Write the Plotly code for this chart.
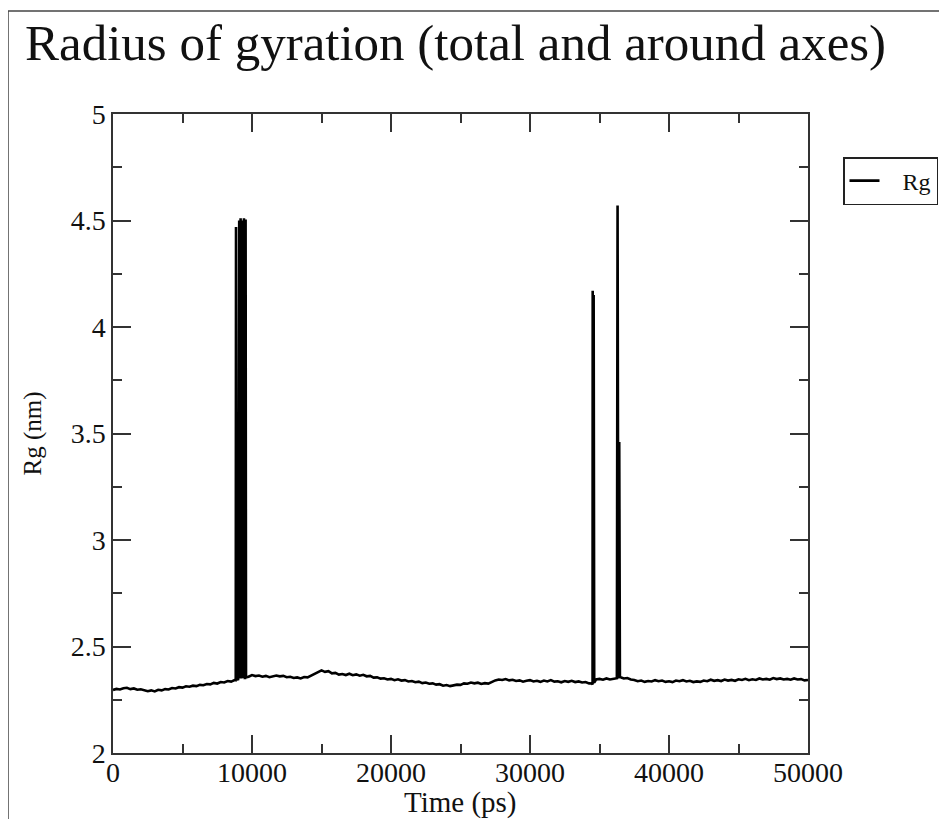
import plotly.graph_objects as go

base_time_ps = list(range(0, 50001, 250))
base_rg_nm = [
    2.296, 2.301, 2.298, 2.304, 2.306, 2.300, 2.303, 2.297, 2.299, 2.293,
    2.290, 2.294, 2.289, 2.297, 2.294, 2.300, 2.298, 2.305, 2.303, 2.309,
    2.307, 2.313, 2.311, 2.316, 2.314, 2.320, 2.318, 2.324, 2.322, 2.329,
    2.326, 2.333, 2.331, 2.338, 2.335, 2.342, 2.346, 2.350, 2.352, 2.358,
    2.366, 2.361, 2.364, 2.358, 2.362, 2.356, 2.359, 2.364, 2.360, 2.362,
    2.356, 2.358, 2.352, 2.355, 2.350, 2.357, 2.355, 2.364, 2.370, 2.378,
    2.388, 2.381, 2.384, 2.374, 2.376, 2.368, 2.371, 2.366, 2.372, 2.365,
    2.369, 2.363, 2.367, 2.360, 2.362, 2.354, 2.355, 2.349, 2.351, 2.345,
    2.348, 2.342, 2.346, 2.340, 2.342, 2.336, 2.338, 2.332, 2.335, 2.328,
    2.331, 2.325, 2.327, 2.321, 2.323, 2.316, 2.319, 2.314, 2.317, 2.321,
    2.320, 2.327, 2.325, 2.331, 2.327, 2.330, 2.324, 2.328, 2.326, 2.335,
    2.341, 2.345, 2.343, 2.347, 2.341, 2.344, 2.338, 2.341, 2.335, 2.339,
    2.342, 2.336, 2.339, 2.334, 2.340, 2.336, 2.342, 2.335, 2.337, 2.332,
    2.338, 2.334, 2.339, 2.333, 2.336, 2.331, 2.333, 2.327, 2.322, 2.345,
    2.348, 2.344, 2.350, 2.345, 2.347, 2.351, 2.356, 2.350, 2.352, 2.345,
    2.343, 2.337, 2.340, 2.334, 2.338, 2.336, 2.342, 2.337, 2.340, 2.334,
    2.337, 2.333, 2.340, 2.337, 2.342, 2.336, 2.339, 2.333, 2.336, 2.334,
    2.340, 2.337, 2.344, 2.339, 2.342, 2.338, 2.345, 2.340, 2.343, 2.339,
    2.346, 2.343, 2.348, 2.342, 2.346, 2.343, 2.350, 2.345, 2.348, 2.344,
    2.352, 2.347, 2.350, 2.345, 2.348, 2.344, 2.350, 2.345, 2.347, 2.341,
    2.343,
]

# Spike events (time in ps, Rg in nm)
spike_time_ps = [
    8830, 8850, 8870,
    9080, 9130, 9180, 9240, 9300, 9360, 9420, 9480, 9540, 9570,
    34460, 34510, 34540, 34580, 34620,
    36240, 36300, 36360, 36420, 36470,
]
spike_rg_nm = [
    2.342, 4.47, 2.344,
    4.50, 2.350, 4.51, 2.350, 4.50, 2.352, 4.51, 2.352, 4.505, 2.355,
    2.326, 4.17, 2.326, 4.15, 2.330,
    2.350, 4.57, 2.350, 3.46, 2.352,
]

pairs = sorted(zip(base_time_ps + spike_time_ps, base_rg_nm + spike_rg_nm))
time_ps = [p[0] for p in pairs]
rg_nm = [p[1] for p in pairs]

x_ticks = [0, 10000, 20000, 30000, 40000, 50000]
y_ticks = [2, 2.5, 3, 3.5, 4, 4.5, 5]
y_tick_text = ["2", "2.5", "3", "3.5", "4", "4.5", "5"]

FONT = "Liberation Serif"
OFF = 8  # page body margin
W, H = 947 - OFF, 819 - OFF
L, T = 113 - OFF, 114 - OFF
PW, PH = 695, 639
R, B = W - L - PW, H - T - PH


def px(xp):  # page x -> paper x
    return (xp - OFF - L) / PW


def py(yp):  # page y -> paper y
    return (T + PH - (yp - OFF)) / PH


fig = go.Figure()
fig.add_trace(go.Scatter(
    x=time_ps, y=rg_nm, mode="lines", name="\u00a0\u00a0\u00a0Rg",
    line=dict(color="black", width=2.6),
))

axis_common = dict(
    showgrid=False, zeroline=False, showline=True, linecolor="#333333",
    linewidth=1.5, mirror="ticks", ticks="inside", ticklen=18, tickwidth=1.5,
    tickcolor="#333333", tickfont=dict(family=FONT, size=28, color="#111111"),
)

fig.update_xaxes(
    range=[0, 50000], tickvals=x_ticks, ticktext=[str(v) for v in x_ticks],
    ticklabelstandoff=-6,
    minor=dict(ticks="inside", ticklen=9, dtick=5000, tick0=0, tickwidth=1.5,
               tickcolor="#333333", showgrid=False),
    **axis_common,
)
fig.update_yaxes(
    range=[2, 5], tickvals=y_ticks, ticktext=y_tick_text,
    minor=dict(ticks="inside", ticklen=9, dtick=0.25, tick0=2, tickwidth=1.5,
               tickcolor="#333333", showgrid=False),
    **axis_common,
)

# frame lines of the original picture (top and left)
fig.add_shape(type="line", xref="paper", yref="paper", x0=px(8), x1=px(947),
              y0=py(11), y1=py(11), line=dict(color="#444444", width=1.5))
fig.add_shape(type="line", xref="paper", yref="paper", x0=px(8), x1=px(8),
              y0=py(11), y1=py(819), line=dict(color="#444444", width=1.5))

# axis titles
fig.add_annotation(text="Time (ps)", xref="paper", yref="paper",
                   x=0.5, y=py(802), xanchor="center", yanchor="middle",
                   showarrow=False, font=dict(family=FONT, size=29, color="#111111"))
fig.add_annotation(text="Rg (nm)", xref="paper", yref="paper",
                   x=px(32), y=0.5, xanchor="center", yanchor="middle",
                   textangle=-90, showarrow=False,
                   font=dict(family=FONT, size=25, color="#111111"))

fig.update_layout(
    width=W, height=H,
    margin=dict(l=L, r=R, t=T, b=B, autoexpand=False),
    paper_bgcolor="white", plot_bgcolor="white",
    title=dict(text="Radius of gyration (total and around axes)",
               x=(25 - OFF) / W, xanchor="left", y=1 - (42 - OFF) / H, yanchor="middle",
               font=dict(family=FONT, size=51, color="#111111")),
    showlegend=True,
    legend=dict(x=px(843), y=py(157), xanchor="left", yanchor="top",
                bordercolor="#222222", borderwidth=1.5, bgcolor="white",
                font=dict(family=FONT, size=24, color="#111111"),
                itemwidth=30, tracegroupgap=0),
)

fig.write_html("out.html")
